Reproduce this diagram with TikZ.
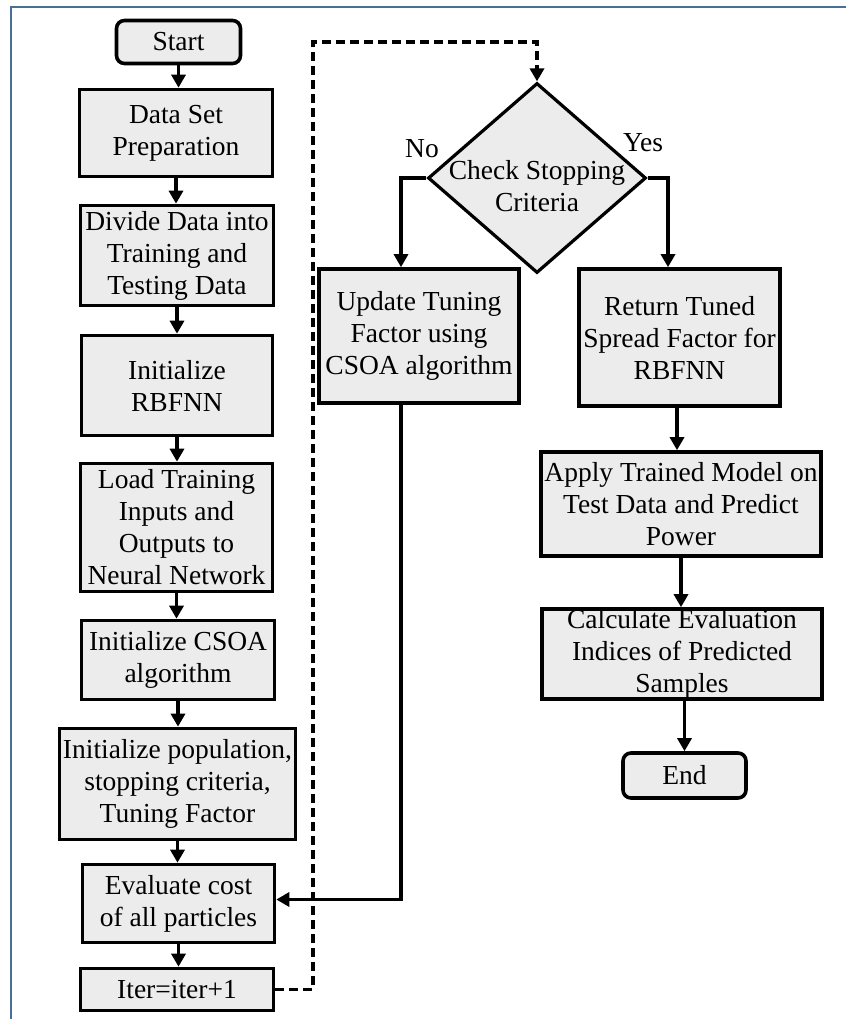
\documentclass[tikz,border=0pt]{standalone}
\usepackage{fontspec}
\setmainfont{Liberation Serif}
\usetikzlibrary{arrows.meta,shapes.geometric}
\definecolor{boxgray}{HTML}{ECECEC}
\definecolor{framecol}{HTML}{4A6F96}
\tikzset{
	procbox/.style={draw,line width=3.6pt,fill=boxgray,align=center,inner sep=0pt,font=\fontsize{27.5}{32}\selectfont},
	termbox/.style={procbox,rounded corners=8pt},
	decbox/.style={draw,diamond,line width=3.2pt,fill=boxgray,inner sep=0pt},
	flowline/.style={line width=3.2pt,->},
	loopline/.style={line width=3.2pt,dash pattern=on 9pt off 5pt,->},
	lbl/.style={font=\fontsize{27.5}{32}\selectfont,inner sep=0pt}
}
\begin{document}
\begin{tikzpicture}[line cap=butt,line join=miter,>={Triangle[width=14pt,length=13pt]},x=1pt,y=-1pt]
		\useasboundingbox (0,0) rectangle (846,1019);
		\draw [framecol,line width=1.2pt] (11,1019)--(11,7)--(846,7);
		% left column
		\node [termbox,minimum width=124pt,minimum height=43pt] (start) at (178.5,42) {Start};
		\node [procbox,minimum width=193pt,minimum height=87pt] (dset) at (176,133) {Data Set\\Preparation};
		\node [procbox,minimum width=193pt,minimum height=100pt] (divide) at (177,255.5) {Divide Data into\\Training and\\Testing Data};
		\node [procbox,minimum width=191pt,minimum height=100pt] (rbf) at (177,385.5) {Initialize\\RBFNN};
		\node [procbox,minimum width=192pt,minimum height=128pt] (load) at (176.5,527.5) {Load Training\\Inputs and\\Outputs to\\Neural Network};
		\node [procbox,minimum width=193pt,minimum height=79pt] (csoa) at (178,660) {Initialize CSOA\\algorithm};
		\node [procbox,minimum width=236pt,minimum height=111pt] (pop) at (177.5,784) {Initialize population,\\stopping criteria,\\Tuning Factor};
		\node [procbox,minimum width=192pt,minimum height=78pt] (eval) at (178.5,903.5) {Evaluate cost\\of all particles};
		\node [procbox,minimum width=193pt,minimum height=42pt] (iter) at (177,989.5) {Iter=iter+1};
		% decision and right side
		\node [decbox,minimum width=218pt,minimum height=190pt,label={[lbl,align=center,yshift=-8pt]center:Check Stopping\\Criteria}] (dec) at (537,178) {};
		\node [procbox,minimum width=200pt,minimum height=134pt] (upd) at (419,336) {Update Tuning\\Factor using\\CSOA algorithm};
		\node [procbox,minimum width=201pt,minimum height=137pt] (ret) at (679.5,337.5) {Return Tuned\\Spread Factor for\\RBFNN};
		\node [procbox,minimum width=280pt,minimum height=104pt] (apply) at (681,504) {Apply Trained Model on\\Test Data and Predict\\Power};
		\node [procbox,minimum width=280pt,minimum height=90pt] (calc) at (682,654) {Calculate Evaluation\\Indices of Predicted\\Samples};
		\node [termbox,minimum width=123pt,minimum height=45pt] (endn) at (684.5,775.5) {End};
		\node [lbl] (nolbl) at (422,149) {No};
		\node [lbl] (yeslbl) at (643,143) {Yes};
		\coordinate (looptop) at (313,42);
		% connectors
		\draw [flowline] (start.south)--(start.south |- dset.north);
		\draw [flowline] (dset.south)--(dset.south |- divide.north);
		\draw [flowline] (divide.south)--(divide.south |- rbf.north);
		\draw [flowline] (rbf.south)--(rbf.south |- load.north);
		\draw [flowline] (load.south)--(load.south |- csoa.north);
		\draw [flowline] (csoa.south)--(csoa.south |- pop.north);
		\draw [flowline] (pop.south)--(pop.south |- eval.north);
		\draw [flowline] (eval.south)--(eval.south |- iter.north);
		\draw [loopline] (iter.east) -| (looptop) -| (dec.north);
		\draw [flowline] (dec.west) -| ([xshift=-18pt]upd.north);
		\draw [flowline] (dec.east) -| ([xshift=-11.5pt]ret.north);
		\draw [flowline] ([xshift=-18pt]upd.south) |- ([yshift=4pt]eval.east);
		\draw [flowline] ([xshift=-2.5pt]ret.south)--([xshift=-2.5pt]ret.south |- apply.north);
		\draw [flowline] (apply.south)--(apply.south |- calc.north);
		\draw [flowline] (endn.north |- calc.south)--(endn.north);
	\end{tikzpicture}
\end{document}
